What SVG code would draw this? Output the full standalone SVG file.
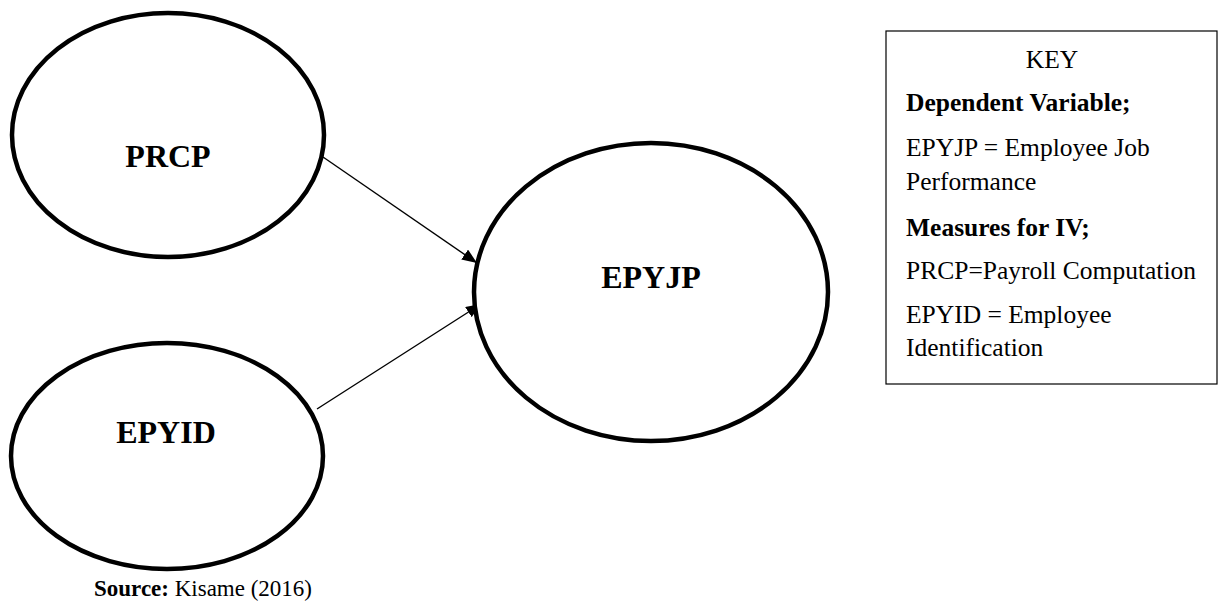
<svg xmlns="http://www.w3.org/2000/svg" width="1227" height="602" viewBox="0 0 1227 602">
<style>
.node{fill:#fff;stroke:#000;stroke-width:4.5}
.lbl{font-family:"Liberation Serif","Times New Roman",serif;font-weight:bold;font-size:32px;text-anchor:middle;fill:#000}
.key{font-family:"Liberation Serif","Times New Roman",serif;font-size:25.5px;fill:#000}
.b{font-weight:bold}
.conn{stroke:#000;stroke-width:1.4;fill:none}
</style>
<defs>
<marker id="ah" viewBox="0 0 10 10" refX="10" refY="5" markerWidth="15" markerHeight="12" markerUnits="userSpaceOnUse" orient="auto" preserveAspectRatio="none">
<path d="M0,0 L10,5 L0,10 z" fill="#000"/>
</marker>
</defs>
<rect width="1227" height="602" fill="#fff"/>
<g id="connectors">
<line class="conn" x1="323" y1="157" x2="477" y2="263" marker-end="url(#ah)"/>
<line class="conn" x1="317" y1="409" x2="481" y2="304" marker-end="url(#ah)"/>
</g>
<g id="node-prcp">
<ellipse class="node" cx="168" cy="135" rx="156" ry="122"/>
<text class="lbl" x="168" y="167">PRCP</text>
</g>
<g id="node-epyid">
<ellipse class="node" cx="167" cy="456" rx="156" ry="113"/>
<text class="lbl" x="166" y="443">EPYID</text>
</g>
<g id="node-epyjp">
<ellipse class="node" cx="651" cy="292" rx="177" ry="149"/>
<text class="lbl" x="651" y="288">EPYJP</text>
</g>
<g id="key">
<rect x="886" y="31" width="331" height="353" fill="#fff" stroke="#000" stroke-width="1.2"/>
<text class="key" x="1052" y="68" text-anchor="middle">KEY</text>
<text class="key b" x="906" y="111">Dependent Variable;</text>
<text class="key" x="906" y="156">EPYJP = Employee Job</text>
<text class="key" x="906" y="190">Performance</text>
<text class="key b" x="906" y="236">Measures for IV;</text>
<text class="key" x="906" y="279">PRCP=Payroll Computation</text>
<text class="key" x="906" y="323">EPYID = Employee</text>
<text class="key" x="906" y="356">Identification</text>
</g>
<text class="key" x="94" y="596" style="font-size:23px"><tspan class="b">Source:</tspan> Kisame (2016)</text>
</svg>
